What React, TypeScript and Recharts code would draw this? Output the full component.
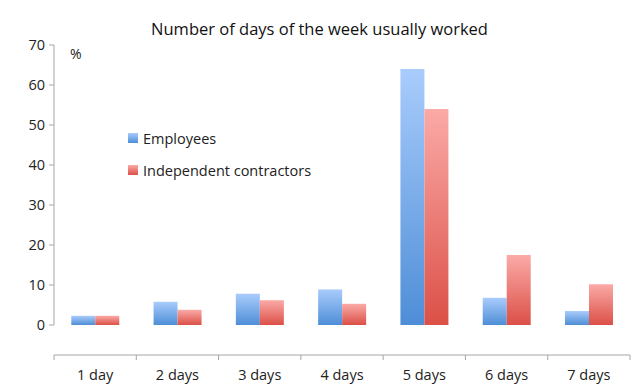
import { BarChart, Bar, XAxis, YAxis } from 'recharts';

// ─── data ─────────────────────────────────────────────────────────────────────

const categories = ['1 day', '2 days', '3 days', '4 days', '5 days', '6 days', '7 days'];
const employees = [2.3, 5.8, 7.8, 8.9, 64, 6.8, 3.5];
const contractors = [2.3, 3.8, 6.2, 5.3, 54, 17.5, 10.2];
const yTicks = [0, 10, 20, 30, 40, 50, 60, 70];
// whole numbers = category boundaries (tick marks), halves = category centres (labels)
const xTicks = [0, 0.5, 1, 1.5, 2, 2.5, 3, 3.5, 4, 4.5, 5, 5.5, 6, 6.5, 7];

const data = categories.map((day, i) => ({
  day,
  pos: i + 0.5,
  employees: employees[i],
  contractors: contractors[i],
}));

const FONT = '"Open Sans", sans-serif';
const AXIS = '#a6a6a6';

const series = [
  { label: 'Employees', top: '#a9ccfc', bottom: '#4e8ed7' },
  { label: 'Independent contractors', top: '#fbaaa7', bottom: '#db5047' },
];

// boundary tick or category label, depending on where the tick falls
function XTick({ x, y, payload }: any) {
  const v = payload.value;
  if (Number.isInteger(v)) {
    return <line x1={x} x2={x} y1={y} y2={y + 5} stroke={AXIS} />;
  }
  return (
    <text x={x} y={y + 15} dy="0.71em" textAnchor="middle" fontSize={14.5} fontFamily={FONT} fill="#222">
      {categories[Math.floor(v)]}
    </text>
  );
}

// legend sits inside the plot, so it's drawn as plain html over the chart
function LegendBox() {
  return (
    <div style={{ position: 'absolute', left: 128, top: 122, fontFamily: FONT, fontSize: 14.5, color: '#222' }}>
      {series.map(s => (
        <div key={s.label} style={{ display: 'flex', alignItems: 'center', height: 32 }}>
          <span
            style={{
              display: 'inline-block',
              width: 10,
              height: 10,
              marginRight: 5,
              background: `linear-gradient(${s.top}, ${s.bottom})`,
            }}
          />
          <span>{s.label}</span>
        </div>
      ))}
    </div>
  );
}

export default function App() {
  return (
    <div style={{ position: 'absolute', left: 0, top: 0, width: 639, height: 384, background: '#fff' }}>
      <BarChart
        width={639}
        height={384}
        data={data}
        barCategoryGap="21%"
        barGap={0}
        margin={{ top: 45, right: 9, left: 0, bottom: 29 }}
      >
        <defs>
          <linearGradient id="gradBlue" x1="0" y1="0" x2="0" y2="1">
            <stop offset="0%" stopColor={series[0].top} />
            <stop offset="100%" stopColor={series[0].bottom} />
          </linearGradient>
          <linearGradient id="gradRed" x1="0" y1="0" x2="0" y2="1">
            <stop offset="0%" stopColor={series[1].top} />
            <stop offset="100%" stopColor={series[1].bottom} />
          </linearGradient>
        </defs>
        <XAxis dataKey="day" xAxisId="cat" hide />
        <XAxis
          xAxisId="edges"
          dataKey="pos"
          type="number"
          domain={[0, 7]}
          ticks={xTicks}
          interval={0}
          axisLine={{ stroke: AXIS }}
          tickLine={false}
          tickSize={0}
          tickMargin={0}
          tick={<XTick />}
          height={30}
        />
        <YAxis
          domain={[0, 70]}
          ticks={yTicks}
          width={54}
          axisLine={{ stroke: AXIS }}
          tickLine={{ stroke: AXIS }}
          tickSize={5}
          tickMargin={4}
          tick={{ fontSize: 14.5, fontFamily: FONT, fill: '#222' }}
        />
        <Bar xAxisId="cat" dataKey="employees" name="Employees" fill="url(#gradBlue)" isAnimationActive={false} />
        <Bar xAxisId="cat" dataKey="contractors" name="Independent contractors" fill="url(#gradRed)" isAnimationActive={false} />
      </BarChart>
      <div
        style={{
          position: 'absolute',
          top: 17,
          left: 0,
          width: 639,
          textAlign: 'center',
          fontFamily: FONT,
          fontSize: 16.5,
          color: '#111',
        }}
      >
        Number of days of the week usually worked
      </div>
      <div style={{ position: 'absolute', left: 70, top: 44, fontFamily: FONT, fontSize: 14, color: '#222' }}>%</div>
      <LegendBox />
    </div>
  );
}
